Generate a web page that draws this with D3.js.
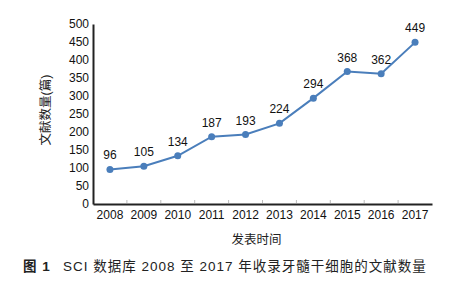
<!DOCTYPE html>
<html>
<head>
  <meta charset="utf-8">
  <script src="https://cdn.jsdelivr.net/npm/d3@7"></script>
  <style>
    body { margin: 0; background: #fff; }
    text { font-family: "Liberation Sans", Arial, "Noto Sans CJK SC", sans-serif; }
  </style>
</head>
<body>
  <svg width="476" height="300" id="chart"></svg>
  <script>
    const years = ['2008', '2009', '2010', '2011', '2012', '2013', '2014', '2015', '2016', '2017'];
    const counts = [96, 105, 134, 187, 193, 224, 294, 368, 362, 449];
    const yTicks = [0, 50, 100, 150, 200, 250, 300, 350, 400, 450, 500];

    const svg = d3.select('#chart');
    const margin = { top: 24, right: 44, bottom: 96, left: 93 };
    const innerWidth = 476 - margin.left - margin.right;
    const innerHeight = 300 - margin.top - margin.bottom;
    const g = svg.append('g').attr('transform', `translate(${margin.left}, ${margin.top})`);

    const xScale = d3.scaleBand().domain(years).range([0, innerWidth]);
    const yScale = d3.scaleLinear().domain([0, 500]).range([innerHeight, 0]);
    const lineColor = '#4a7ebb';

    // y axis, no ticks, labels only
    const yAxisGroup = g.append('g').call(d3.axisLeft(yScale).tickValues(yTicks).tickSize(0).tickPadding(4));
    yAxisGroup.select('.domain').attr('stroke', '#222').attr('stroke-width', 2);
    yAxisGroup.selectAll('.tick text').attr('font-size', 12).attr('fill', '#111');

    // x axis with light inner ticks at category boundaries
    const xAxisGroup = g.append('g').attr('transform', `translate(0, ${innerHeight})`)
      .call(d3.axisBottom(xScale).tickSize(0).tickPadding(6));
    xAxisGroup.select('.domain').attr('stroke', '#222').attr('stroke-width', 2);
    xAxisGroup.selectAll('.tick text').attr('font-size', 12).attr('fill', '#111');
    g.selectAll('.xminor').data(years.slice(1)).join('line')
      .attr('x1', d => xScale(d)).attr('x2', d => xScale(d))
      .attr('y1', innerHeight - 1).attr('y2', innerHeight - 4)
      .attr('stroke', '#bbb');

    const cx = d => xScale(d) + xScale.bandwidth() / 2;
    const points = years.map((y, i) => ({ year: y, value: counts[i] }));

    g.append('path').datum(points)
      .attr('fill', 'none').attr('stroke', lineColor).attr('stroke-width', 2)
      .attr('d', d3.line().x(d => cx(d.year)).y(d => yScale(d.value)));

    g.selectAll('.dot').data(points).join('circle')
      .attr('cx', d => cx(d.year)).attr('cy', d => yScale(d.value))
      .attr('r', 3.5).attr('fill', lineColor);

    g.selectAll('.lbl').data(points).join('text')
      .attr('x', d => cx(d.year)).attr('y', d => yScale(d.value) - 10)
      .attr('text-anchor', 'middle').attr('font-size', 12).attr('fill', '#111')
      .text(d => d.value);

    // axis titles
    svg.append('text')
      .attr('transform', `translate(50, ${margin.top + innerHeight / 2 - 4}) rotate(-90)`)
      .attr('text-anchor', 'middle').attr('font-size', 12.5).attr('fill', '#222')
      .text('文献数量(篇)');
    svg.append('text')
      .attr('x', margin.left + innerWidth / 2 - 6).attr('y', 244)
      .attr('text-anchor', 'middle').attr('font-size', 12.5).attr('fill', '#222')
      .text('发表时间');

    // caption
    const cap = svg.append('text').attr('y', 271).attr('font-size', 13.5).attr('fill', '#222');
    cap.append('tspan').attr('x', 23).attr('font-weight', 'bold').attr('letter-spacing', 1).text('图 1');
    cap.append('tspan').attr('x', 63).attr('letter-spacing', 1).text('SCI 数据库 2008 至 2017 年收录牙髓干细胞的文献数量');
  </script>
</body>
</html>
